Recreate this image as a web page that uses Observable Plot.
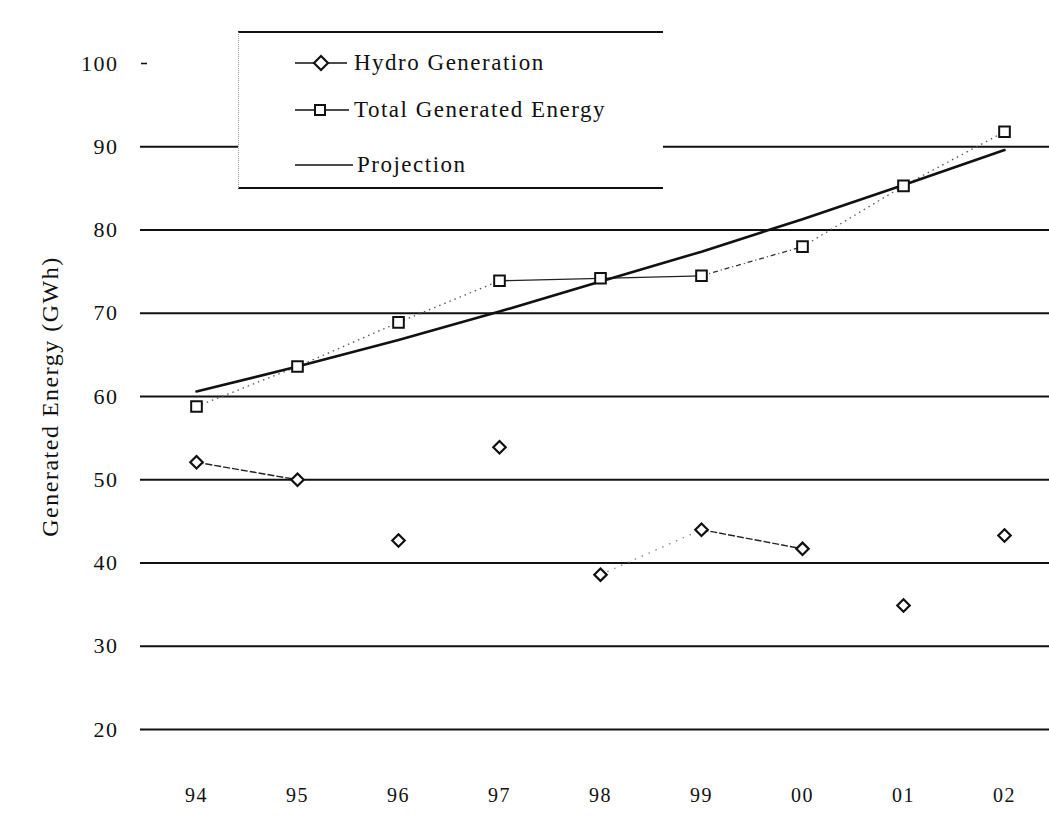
<!DOCTYPE html>
<html>
<head>
<meta charset="utf-8">
<script src="https://cdn.jsdelivr.net/npm/d3@7"></script>
<script src="https://cdn.jsdelivr.net/npm/@observablehq/plot@0.6"></script>
<style>
  html, body { margin: 0; padding: 0; background: #fff; }
  #wrap { position: relative; width: 1049px; height: 817px; overflow: hidden; }
  #legend {
    position: absolute; left: 238px; top: 31px; width: 425px; height: 158px;
    background: #fff; border-top: 2px solid #111; border-bottom: 2px solid #111;
    border-left: 1px dotted #999; box-sizing: border-box;
    font-family: "Liberation Serif", serif; font-size: 23px; color: #111; letter-spacing: 1.5px;
  }
  .row { position: absolute; left: 56px; height: 26px; display: flex; align-items: center; }
  .row svg { margin-right: 3px; }
</style>
</head>
<body>
<div id="wrap">
  <div id="chart"></div>
  <div id="legend"></div>
</div>
<script>
const years = ["94", "95", "96", "97", "98", "99", "00", "01", "02"];
const hydro = [52.1, 50.0, 42.7, 53.9, 38.6, 44.0, 41.7, 34.9, 43.3];
const total = [58.8, 63.6, 68.9, 73.9, 74.2, 74.5, 78.0, 85.3, 91.8];
const projection = [60.6, 63.6, 66.8, 70.2, 73.8, 77.4, 81.3, 85.4, 89.6];
const yTicks = [20, 30, 40, 50, 60, 70, 80, 90, 100];
const seriesNames = ["Hydro Generation", "Total Generated Energy", "Projection"];

// connecting segments as they appear in the (scanned) reference
const hydroSegStyle = ["dash", null, null, null, "dot", "dash", null, null];
const totalSegStyle = ["dot", "dot", "dot", "solid", "solid", "dash", "dot", "dot"];

const rows = years.map((yr, i) => ({year: yr, hydro: hydro[i], total: total[i], projection: projection[i]}));
function segs(vals, styles) {
  const out = [];
  for (let i = 0; i < years.length - 1; i++) {
    if (styles[i]) out.push({x1: years[i], y1: vals[i], x2: years[i + 1], y2: vals[i + 1], s: styles[i]});
  }
  return out;
}
const hSegs = segs(hydro, hydroSegStyle);
const tSegs = segs(total, totalSegStyle);
const gridVals = yTicks.filter(v => v < 100);

const ink = "#111";
const chart = Plot.plot({
  width: 1049,
  height: 817,
  marginLeft: 140,
  marginRight: 0,
  marginTop: 63,
  marginBottom: 88,
  style: {fontFamily: "Liberation Serif, serif", background: "#fff", color: ink, letterSpacing: "1.5px"},
  x: {type: "point", domain: years, range: [192, 1007], padding: 0},
  y: {domain: [20, 100], range: [729, 63]},
  marks: [
    Plot.ruleY(gridVals, {stroke: ink, strokeWidth: 1.8}),
    Plot.axisY({ticks: [100], tickSize: 6, dx: 7, text: null, label: null, stroke: ink, strokeWidth: 1.6}),
    Plot.axisY({ticks: yTicks, tickSize: 0, tickPadding: 22, tickFormat: d => String(d), label: null, fontSize: 22}),
    Plot.text(["Generated Energy (GWh)"], {frameAnchor: "left", textAnchor: "middle", dx: -90, rotate: -90, fontSize: 24, fill: ink}),
    Plot.axisX({tickSize: 0, tickPadding: 58, label: null, fontSize: 20}),
    Plot.link(tSegs.filter(d => d.s === "dot"), {x1: "x1", y1: "y1", x2: "x2", y2: "y2", stroke: "#555", strokeWidth: 1.3, strokeDasharray: "1.5,4"}),
    Plot.link(tSegs.filter(d => d.s === "dash"), {x1: "x1", y1: "y1", x2: "x2", y2: "y2", stroke: "#333", strokeWidth: 1.3, strokeDasharray: "5,3,1,3"}),
    Plot.link(tSegs.filter(d => d.s === "solid"), {x1: "x1", y1: "y1", x2: "x2", y2: "y2", stroke: "#222", strokeWidth: 1.3}),
    Plot.link(hSegs.filter(d => d.s === "dot"), {x1: "x1", y1: "y1", x2: "x2", y2: "y2", stroke: "#777", strokeWidth: 1.2, strokeDasharray: "1.5,6"}),
    Plot.link(hSegs.filter(d => d.s === "dash"), {x1: "x1", y1: "y1", x2: "x2", y2: "y2", stroke: "#222", strokeWidth: 1.4, strokeDasharray: "7,2"}),
    Plot.line(rows, {x: "year", y: "projection", stroke: ink, strokeWidth: 2.6}),
    Plot.dot(rows, {x: "year", y: "total", symbol: "square", r: 6, fill: "#fff", stroke: ink, strokeWidth: 2}),
    Plot.dot(rows, {x: "year", y: "hydro", symbol: "diamond2", r: 5.6, fill: "#fff", stroke: ink, strokeWidth: 2.2})
  ]
});
document.getElementById("chart").appendChild(chart);

// legend
const legend = document.getElementById("legend");
const rowTops = [17, 64, 119];
const sym = [
  `<svg width="56" height="20"><line x1="0" y1="10" x2="52" y2="10" stroke="${ink}" stroke-width="1.4"/><path d="M26 3 L33 10 L26 17 L19 10 Z" fill="#fff" stroke="${ink}" stroke-width="2.2"/></svg>`,
  `<svg width="56" height="20"><line x1="0" y1="10" x2="54" y2="10" stroke="${ink}" stroke-width="1.6"/><rect x="20" y="5" width="10" height="10" fill="#fff" stroke="${ink}" stroke-width="2"/></svg>`,
  `<svg width="59" height="20"><line x1="0" y1="10" x2="58" y2="10" stroke="${ink}" stroke-width="1.6"/></svg>`
];
seriesNames.forEach((name, i) => {
  const r = document.createElement("div");
  r.className = "row";
  r.style.top = rowTops[i] + "px";
  r.innerHTML = sym[i] + `<span>${name}</span>`;
  legend.appendChild(r);
});
</script>
</body>
</html>
